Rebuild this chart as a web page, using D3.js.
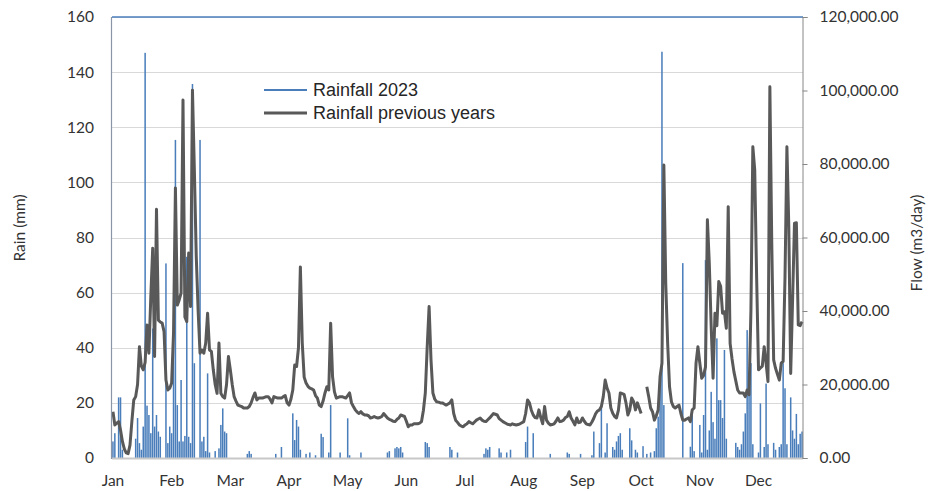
<!DOCTYPE html>
<html>
<head>
<meta charset="utf-8">
<title>Rainfall and flow</title>
<script src="https://d3js.org/d3.v7.min.js"></script>
<style>
  body { margin: 0; background: #fff; }
  .tick-label { font-family: Lato, "Open Sans", sans-serif; font-size: 15.5px; fill: #333333; }
  .legend-text { font-family: "Liberation Sans", Arial, sans-serif; font-size: 18px; fill: #262626; }
</style>
</head>
<body>
<svg id="chart" width="930" height="491"></svg>
<script>
// daily rainfall 2023 (mm), Jan 1 .. Dec 31, rows of 10 days
var rain2023 = [
  6, 9, 0, 22, 22, 3, 0, 0, 0, 0,
  0, 0, 7, 14.5, 5.4, 3, 11.4, 147, 19, 15.6,
  9, 47, 11.4, 15.6, 9.6, 7.7, 0, 0, 70.6, 5.4,
  11.4, 9, 45.8, 115.4, 19.2, 6, 28.3, 6, 8, 73,
  7.7, 5.4, 135.7, 34.4, 0, 0, 115.4, 6, 7.7, 2.5,
  30.7, 2, 0, 0, 2.5, 0, 3.5, 12, 18, 9.6,
  9, 0, 0, 0, 0, 0, 0, 0, 0, 0,
  0, 1.5, 2.5, 1.5, 0, 0, 0, 0, 0, 0,
  0, 0, 0, 0, 0, 0, 1.5, 0, 0, 4,
  0, 0, 0, 0, 0, 16.2, 6.5, 13.8, 11.4, 3,
  0, 0, 1.5, 0, 2, 0, 0, 1, 0, 0,
  8.8, 7.6, 0, 0, 2, 19.2, 0, 0, 0, 0,
  2, 0, 0, 0, 14.4, 1, 0, 0, 0, 0,
  0, 2, 0, 0, 0, 0, 0, 0, 0, 0,
  0, 0, 0, 0, 0, 2, 2.5, 0, 0, 3.5,
  4, 3.5, 4, 2, 0, 0, 0, 0, 0, 0,
  0, 0, 0, 0, 0, 5.8, 5.4, 4, 0, 0,
  0, 0, 0, 0, 0, 0, 0, 0, 4, 3,
  0, 0, 2, 0, 0, 0, 0, 0, 0, 0,
  0, 0, 0, 0, 0, 0, 1.5, 3.5, 3, 4,
  0, 0, 0, 0, 3.5, 2, 0, 0, 2, 0,
  3, 0, 0, 0, 0, 0, 0, 0, 5.8, 11.4,
  0, 0, 9, 0, 0, 0, 0, 0, 0, 0,
  0, 1.5, 0, 0, 0, 0, 0, 0, 0, 0,
  2, 1.5, 0, 0, 0, 0, 0, 1.5, 0, 0,
  0, 0, 0, 1, 9.6, 0, 0, 5.4, 18.6, 0,
  2, 12.6, 0, 0, 4, 3, 6, 8, 9, 3,
  0, 0, 0, 10.8, 6.4, 0, 3, 2, 0, 0,
  4.3, 0, 1.5, 0, 2, 0, 2.5, 10.8, 15, 25.9,
  147.4, 19.2, 0, 0, 0, 0, 0, 0, 0, 0,
  0, 70.7, 0, 0, 0, 4.1, 17.4, 2.5, 0, 0,
  12, 2, 15.6, 71.8, 3, 10, 24, 13, 7, 43.4,
  21, 21, 14.5, 39.2, 7, 0, 0, 0, 0, 5.5,
  4, 3, 5, 9.6, 16.2, 46.4, 29.5, 34.4, 5, 0,
  0, 2, 19.8, 0, 4, 27, 5, 0, 0, 5.5,
  3, 0, 4, 5, 34.4, 25.3, 5, 0, 22, 10,
  7, 16, 5, 8.8, 9.6
];

// daily flow, previous years (m3/day); null = missing day
var flowPrev = [
  12600, 9000, 9500, 9900, 7600, 4500, 2500, 1400, 1200, 3500,
  10000, 15800, 16700, 20000, 30300, 25000, 24000, 26000, 36200, 28500,
  43900, 57100, 27600, 67700, 37500, 37000, 36700, 34400, 21200, 18500,
  19000, 20400, 34000, 73500, 41600, 43000, 44900, 97400, 38400, 37100,
  55800, 41200, 100100, 78400, 55000, 40000, 28500, 29400, 28500, 31300,
  39400, 29400, 29000, 24000, 20000, 17600, 31300, 17600, 16700, 16300,
  20000, 27600, 24000, 20000, 16700, 15500, 14400, 14200, 14000, 13600,
  13600, 13600, 14000, 15000, 16500, 17700, 15800, 16300, 16300, 16300,
  16500, 16700, 16700, 16000, 15000, 16700, 16500, 16300, 16300, 16300,
  16700, 17000, 15000, 14400, 16000, 18500, 25300, 24900, 30000, 52000,
  31300, 22000, 20400, 19500, 19000, 18800, 18500, 17000, 16300, 14400,
  14000, 15500, 17700, 19400, 18500, 36700, 22100, 18000, 16300, 16500,
  16700, 16700, 16500, 16300, 17000, 17700, 15000, 14000, 13100, 12500,
  12100, 12600, 12000, 11700, 11700, 11500, 10900, 11000, 11300, 11000,
  10900, 11000, 11300, 12100, 11500, 10900, 10500, 10300, 10000, 9900,
  10500, 10900, 11700, 11500, 11300, 10000, 8500, 9000, 9000, 9300,
  9300, 9300, 9500, 9900, 13000, 17700, 30300, 41200, 26700, 17700,
  16000, 15300, 15200, 15000, 15000, 14700, 14400, 14700, 15000, 15800,
  12100, 10300, 9700, 9000, 8700, 8500, 9000, 9300, 9900, 9600,
  9300, 9800, 10300, 10600, 10900, 10300, 10000, 9900, 10400, 10900,
  11500, 12100, 11900, 11700, 10700, 10300, 9900, 9600, 9300, 9100,
  9000, 9300, 9100, 9000, 9100, 9300, 9600, 9900, 12100, 15800,
  15000, 13000, 11700, 11000, 10900, 13100, 11000, 9300, 14000, 10300,
  9500, 9000, 9100, 9300, 10000, 10900, 9900, 10000, 10300, 11000,
  11300, 12600, 10900, 10000, 9000, 10900, 9600, 9800, 10900, 10000,
  9300, 9100, 9000, 9800, 10800, 12100, 12800, 13100, 14000, 16700,
  21200, 19000, 17700, 13600, 12200, 11300, 10900, 13000, 17700, 17500,
  17300, 15000, 11700, 13100, 16300, 15400, 13100, 15000, 13600, 12100,
  null, null, 19400, 16700, 13600, 12600, 10300, 11500, 13100, 22100,
  25800, 79700, 47500, 31300, 19400, 15300, 14000, 13600, 14000, 14400,
  12100, 10300, 10300, 10600, 10900, 9900, 13100, 13600, 25800, 30300,
  25800, 21700, 22500, 24800, 64800, 53000, 35700, 21700, 39400, 36000,
  48000, 46700, 39400, 39800, 35300, 68400, 31200, 27000, 23500, 21000,
  18500, 17700, 17700, 17700, 16700, 18500, 17200, 40300, 84700, 78400,
  49300, 24000, 24500, 25000, 30300, 25800, 20800, 101000, 58400, 26700,
  24400, 22800, 21200, 25800, 26300, 49300, 84700, 62900, 23000, 43000,
  63900, 64000, 36200, 36000, 37100
];

var rainTicks = [0, 20, 40, 60, 80, 100, 120, 140, 160];
var flowTicks = [0, 20000, 40000, 60000, 80000, 100000, 120000];
var labelEvery = 31;   // a month label every 31 days
var seriesNames = ["Rainfall 2023", "Rainfall previous years"];

// plot area
var plotLeft = 112, plotRight = 803, plotTop = 17, plotBottom = 458;
var svg = d3.select("#chart");

var days = d3.range(rain2023.length).map(function(i) { return new Date(2023, 0, 1 + i); });

var x = d3.scaleBand()
    .domain(d3.range(days.length))
    .range([plotLeft, plotRight])
    .paddingInner(0.2)
    .paddingOuter(0.1);
var yRain = d3.scaleLinear().domain([0, 160]).range([plotBottom, plotTop]);
var yFlow = d3.scaleLinear().domain([0, 120000]).range([plotBottom, plotTop]);

// gridlines
svg.append("g").selectAll("line")
    .data(rainTicks.slice(1))
    .enter().append("line")
    .attr("x1", plotLeft).attr("x2", plotRight)
    .attr("y1", function(d) { return Math.round(yRain(d)) + 0.5; })
    .attr("y2", function(d) { return Math.round(yRain(d)) + 0.5; })
    .attr("stroke", "#d9d9d9")
    .attr("stroke-width", 1);

// rainfall bars
svg.append("g").selectAll("rect")
    .data(rain2023)
    .enter().append("rect")
    .attr("x", function(d, i) { return x(i); })
    .attr("width", x.bandwidth())
    .attr("y", function(d) { return yRain(d); })
    .attr("height", function(d) { return plotBottom - yRain(d); })
    .attr("fill", "#4a7ebb");

// flow line
var line = d3.line()
    .defined(function(d) { return d != null; })
    .x(function(d, i) { return x(i) + x.bandwidth() / 2; })
    .y(function(d) { return yFlow(d); });

svg.append("path")
    .datum(flowPrev)
    .attr("d", line)
    .attr("fill", "none")
    .attr("stroke", "#595959")
    .attr("stroke-width", 3)
    .attr("stroke-linejoin", "round");

// frame: bottom, left, top
svg.append("line").attr("x1", plotLeft).attr("x2", plotRight).attr("y1", plotBottom + 0.5).attr("y2", plotBottom + 0.5)
    .attr("stroke", "#c8c8c8").attr("stroke-width", 2);
svg.append("line").attr("x1", plotLeft - 0.5).attr("x2", plotLeft - 0.5).attr("y1", plotTop).attr("y2", plotBottom + 1)
    .attr("stroke", "#8a96a8").attr("stroke-width", 1.2);
svg.append("line").attr("x1", plotLeft).attr("x2", plotRight).attr("y1", plotTop).attr("y2", plotTop)
    .attr("stroke", "#4a7ebb").attr("stroke-width", 1.5);

// right axis
var rightAxis = d3.axisRight(yFlow)
    .tickValues(flowTicks)
    .tickSize(5)
    .tickPadding(12)
    .tickFormat(d3.format(",.2f"));
var gR = svg.append("g")
    .attr("transform", "translate(" + (plotRight - 0.5) + ",0)")
    .call(rightAxis);
gR.select(".domain").attr("stroke", "#868686");
gR.selectAll(".tick line").attr("stroke", "#868686");
gR.selectAll(".tick text")
    .attr("class", "tick-label")
    .attr("fill", null);
gR.attr("font-size", null).attr("font-family", null);

// left tick labels (no tick marks)
svg.append("g").selectAll("text")
    .data(rainTicks)
    .enter().append("text")
    .attr("class", "tick-label")
    .attr("x", 94)
    .attr("y", function(d) { return yRain(d); })
    .attr("dy", "0.35em")
    .attr("text-anchor", "end")
    .text(function(d) { return d; });

// month labels
var fmtMonth = d3.timeFormat("%b");
svg.append("g").selectAll("text")
    .data(d3.range(0, days.length, labelEvery))
    .enter().append("text")
    .attr("class", "tick-label")
    .attr("x", function(i) { return x(i) + x.bandwidth() / 2; })
    .attr("y", 481)
    .attr("dy", "0.35em")
    .attr("text-anchor", "middle")
    .text(function(i) { return fmtMonth(days[i]); });

// axis titles
svg.append("text")
    .attr("class", "tick-label")
    .attr("transform", "translate(20,228) rotate(-90)")
    .attr("text-anchor", "middle")
    .attr("dy", "0.35em")
    .text("Rain  (mm)");
svg.append("text")
    .attr("class", "tick-label")
    .attr("transform", "translate(917,243) rotate(-90)")
    .attr("text-anchor", "middle")
    .attr("dy", "0.35em")
    .text("Flow (m3/day)");

// legend
var legend = svg.append("g").attr("transform", "translate(264,90)");
var legColors = ["#4a7ebb", "#595959"];
var legWidths = [2, 3];
seriesNames.forEach(function(name, i) {
    legend.append("line")
        .attr("x1", 0).attr("x2", 43)
        .attr("y1", i * 23).attr("y2", i * 23)
        .attr("stroke", legColors[i])
        .attr("stroke-width", legWidths[i]);
    legend.append("text")
        .attr("class", "legend-text")
        .attr("x", 49)
        .attr("y", i * 23)
        .attr("dy", "0.35em")
        .text(name);
});
</script>
</body>
</html>
